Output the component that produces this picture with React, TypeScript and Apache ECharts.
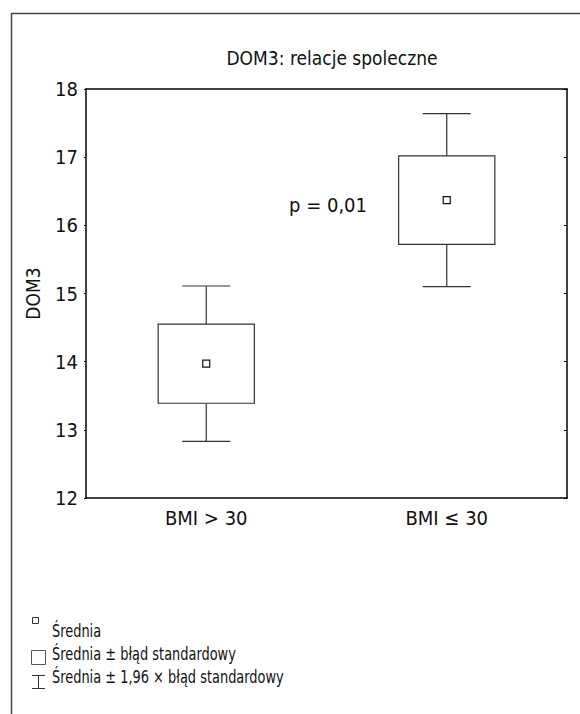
import React, { useEffect, useRef } from "react";
import * as echarts from "echarts";

const categories = ["BMI > 30", "BMI ≤ 30"];
const means = [13.97, 16.37];
const seLow = [13.39, 15.72];
const seHigh = [14.55, 17.02];
const ciLow = [12.83, 15.1];
const ciHigh = [15.11, 17.64];
const yTicks = [12, 13, 14, 15, 16, 17, 18];
const titleText = "DOM3: relacje spoleczne";
const yName = "DOM3";
const pText = "p = 0,01";
const legendLabels = [
  "Średnia",
  "Średnia ± błąd standardowy",
  "Średnia ± 1,96 × błąd standardowy",
];

const FONT = '"DejaVu Sans Condensed", "Liberation Sans Narrow", sans-serif';

export default function App() {
  const ref = useRef<HTMLDivElement>(null);
  useEffect(() => {
    document.body.style.margin = "0";
    const chart = echarts.init(ref.current!, null, { renderer: "svg" });
    const data = categories.map((c, i) => [i, means[i], seLow[i], seHigh[i], ciLow[i], ciHigh[i]]);
    const lineStyle = { stroke: "#333", lineWidth: 1.2, fill: "none" };
    const option: any = {
      animation: false,
      backgroundColor: "#fff",
      textStyle: { fontFamily: FONT },
      title: {
        text: titleText,
        left: 327,
        top: 43,
        textAlign: "center",
        textStyle: { fontFamily: FONT, fontSize: 19, fontWeight: "normal", color: "#111" },
      },
      grid: { left: 86, top: 89, width: 481, height: 409, show: false },
      xAxis: [
        {
          type: "category",
          data: categories,
          position: "bottom",
          axisLine: { lineStyle: { color: "#000", width: 1.5 } },
          axisTick: { inside: true, length: 3, alignWithLabel: true, lineStyle: { color: "#000" } },
          axisLabel: { fontFamily: FONT, fontSize: 20, color: "#111", margin: 10 },
        },
        {
          type: "category",
          data: categories,
          position: "top",
          axisLine: { lineStyle: { color: "#000", width: 1.5 } },
          axisTick: { inside: true, length: 3, alignWithLabel: true, lineStyle: { color: "#000" } },
          axisLabel: { show: false },
        },
      ],
      yAxis: [
        {
          type: "value",
          min: yTicks[0],
          max: yTicks[yTicks.length - 1],
          interval: 1,
          position: "left",
          name: yName,
          nameLocation: "middle",
          nameGap: 44,
          nameTextStyle: { fontFamily: FONT, fontSize: 19, color: "#111" },
          splitLine: { show: false },
          axisLine: { show: true, lineStyle: { color: "#000", width: 1.5 } },
          axisTick: { show: true, inside: false, length: 2, lineStyle: { color: "#000" } },
          axisLabel: { fontFamily: FONT, fontSize: 20, color: "#111", margin: 8 },
        },
        {
          type: "value",
          min: yTicks[0],
          max: yTicks[yTicks.length - 1],
          interval: 1,
          position: "right",
          splitLine: { show: false },
          axisLine: { show: true, lineStyle: { color: "#000", width: 1.5 } },
          axisTick: { show: true, inside: true, length: 3, lineStyle: { color: "#000" } },
          axisLabel: { show: false },
        },
      ],
      series: [
        {
          type: "custom",
          xAxisIndex: 0,
          yAxisIndex: 0,
          data,
          renderItem: (params: any, api: any) => {
            const x = api.value(0);
            const band = api.size([1, 0])[0];
            const boxW = band * 0.4;
            const capW = band * 0.2;
            const [cx, ym] = api.coord([x, api.value(1)]);
            const y1 = api.coord([x, api.value(2)])[1];
            const y2 = api.coord([x, api.value(3)])[1];
            const y3 = api.coord([x, api.value(4)])[1];
            const y4 = api.coord([x, api.value(5)])[1];
            const ms = 7;
            return {
              type: "group",
              children: [
                { type: "line", shape: { x1: cx, y1: y2, x2: cx, y2: y4 }, style: lineStyle },
                { type: "line", shape: { x1: cx, y1: y1, x2: cx, y2: y3 }, style: lineStyle },
                { type: "line", shape: { x1: cx - capW / 2, y1: y4, x2: cx + capW / 2, y2: y4 }, style: lineStyle },
                { type: "line", shape: { x1: cx - capW / 2, y1: y3, x2: cx + capW / 2, y2: y3 }, style: lineStyle },
                {
                  type: "rect",
                  shape: { x: cx - boxW / 2, y: y2, width: boxW, height: y1 - y2 },
                  style: { stroke: "#333", lineWidth: 1.2, fill: "#fff" },
                },
                {
                  type: "rect",
                  shape: { x: cx - ms / 2, y: ym - ms / 2, width: ms, height: ms },
                  style: { stroke: "#111", lineWidth: 1.2, fill: "#fff" },
                },
              ],
            };
          },
        },
      ],
      graphic: [
        {
          type: "rect",
          shape: { x: 11.5, y: 13.5, width: 700, height: 800 },
          style: { stroke: "#444", lineWidth: 1.5, fill: "none" },
          silent: true,
        },
        {
          type: "text",
          x: 328,
          y: 205,
          style: { text: pText, font: `20px ${FONT}`, fill: "#111", align: "center", verticalAlign: "middle" },
        },
        {
          type: "rect",
          shape: { x: 32.5, y: 617.5, width: 6, height: 6 },
          style: { stroke: "#333", lineWidth: 1, fill: "#fff" },
        },
        {
          type: "rect",
          shape: { x: 31.5, y: 650.5, width: 14, height: 14 },
          style: { stroke: "#555", lineWidth: 1, fill: "#fff" },
        },
        { type: "line", shape: { x1: 38.5, y1: 675, x2: 38.5, y2: 688 }, style: { stroke: "#333", lineWidth: 1 } },
        { type: "line", shape: { x1: 32, y1: 675.5, x2: 45, y2: 675.5 }, style: { stroke: "#333", lineWidth: 1 } },
        { type: "line", shape: { x1: 32, y1: 688.5, x2: 45, y2: 688.5 }, style: { stroke: "#333", lineWidth: 1 } },
        ...legendLabels.map((t, i) => ({
          type: "text",
          x: 52,
          y: 631 + i * 23,
          scaleX: 0.8,
          style: { text: t, font: `18px ${FONT}`, fill: "#111", align: "left", verticalAlign: "middle" },
        })),
      ],
    };
    chart.setOption(option);
    return () => chart.dispose();
  }, []);
  return <div ref={ref} style={{ width: 580, height: 714 }} />;
}
